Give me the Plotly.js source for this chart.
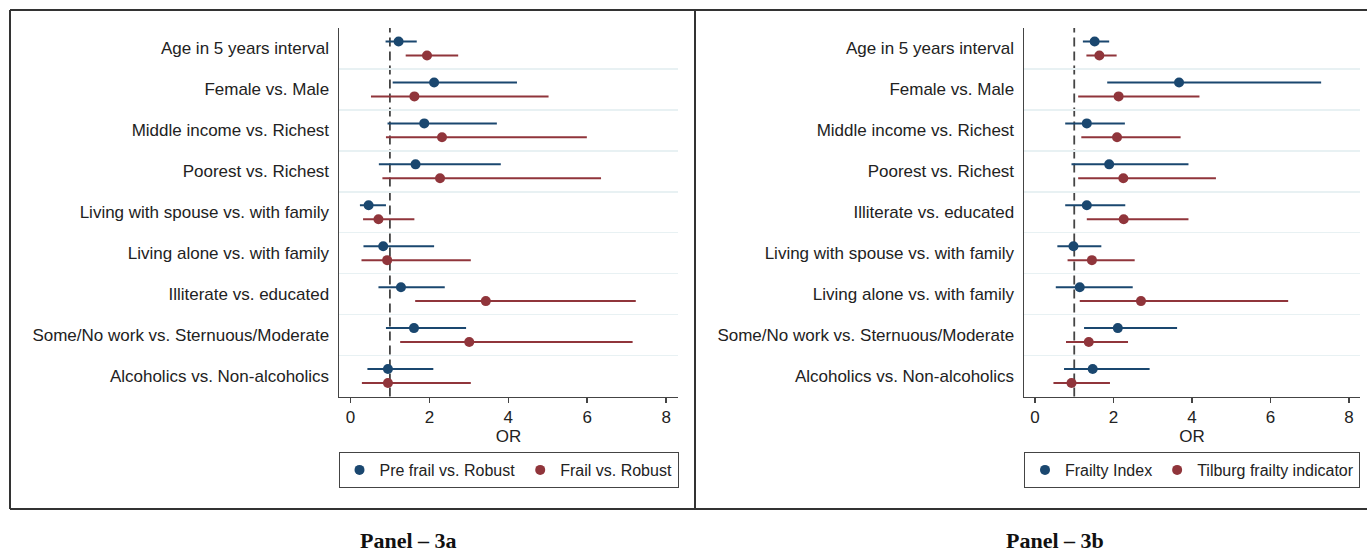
<!DOCTYPE html>
<html>
<head>
<meta charset="utf-8">
<script src="https://cdn.plot.ly/plotly-3.0.1.min.js"></script>
<style>html,body{margin:0;padding:0;background:#fff;}#chart{width:1367px;height:553px;}</style>
</head>
<body>
<div id="chart"></div>
<script>
// Panel 3a
const categoriesA = ["Age in 5 years interval","Female vs. Male","Middle income vs. Richest","Poorest vs. Richest","Living with spouse vs. with family","Living alone vs. with family","Illiterate vs. educated","Some/No work vs. Sternuous/Moderate","Alcoholics vs. Non-alcoholics"];
const orA_pre   = [1.22, 2.12, 1.87, 1.65, 0.46, 0.83, 1.28, 1.61, 0.95];
const loA_pre   = [0.89, 1.07, 0.94, 0.72, 0.24, 0.33, 0.71, 0.90, 0.43];
const hiA_pre   = [1.68, 4.22, 3.71, 3.81, 0.90, 2.12, 2.39, 2.93, 2.10];
const orA_frail = [1.94, 1.62, 2.32, 2.27, 0.71, 0.93, 3.43, 3.01, 0.95];
const loA_frail = [1.40, 0.52, 0.90, 0.81, 0.32, 0.28, 1.64, 1.26, 0.29];
const hiA_frail = [2.73, 5.02, 5.99, 6.35, 1.62, 3.05, 7.23, 7.15, 3.05];
const seriesA = ["Pre frail vs. Robust", "Frail vs. Robust"];

// Panel 3b
const categoriesB = ["Age in 5 years interval","Female vs. Male","Middle income vs. Richest","Poorest vs. Richest","Illiterate vs. educated","Living with spouse vs. with family","Living alone vs. with family","Some/No work vs. Sternuous/Moderate","Alcoholics vs. Non-alcoholics"];
const orB_fi  = [1.52, 3.67, 1.32, 1.89, 1.32, 0.98, 1.14, 2.11, 1.47];
const loB_fi  = [1.22, 1.84, 0.77, 0.93, 0.77, 0.57, 0.53, 1.25, 0.74];
const hiB_fi  = [1.89, 7.29, 2.29, 3.91, 2.30, 1.69, 2.49, 3.62, 2.92];
const orB_tfi = [1.64, 2.13, 2.09, 2.25, 2.26, 1.45, 2.70, 1.37, 0.93];
const loB_tfi = [1.31, 1.10, 1.18, 1.10, 1.32, 0.83, 1.14, 0.79, 0.47];
const hiB_tfi = [2.08, 4.19, 3.71, 4.61, 3.91, 2.54, 6.45, 2.37, 1.91];
const seriesB = ["Frailty Index", "Tilburg frailty indicator"];

const xTicks = [0, 2, 4, 6, 8];
const panelLabels = ["Panel – 3a", "Panel – 3b"];

const BLUE = "#1a476f", RED = "#90353b";
const FONT = "Liberation Sans, Arial, Helvetica, sans-serif";
const W = 1367, H = 553;
const px = v => v / W, py = v => 1 - v / H;

function trace(cats, or, lo, hi, name, color, shift, xa, ya, leg) {
  return {
    type: "scatter", mode: "markers", name: name,
    x: or, y: cats.map((c, i) => i + shift),
    xaxis: xa, yaxis: ya, legend: leg,
    marker: {color: color, size: 10},
    error_x: {type: "data", symmetric: false,
      array: hi.map((h, i) => h - or[i]),
      arrayminus: lo.map((l, i) => or[i] - l),
      color: color, thickness: 2, width: 0},
    hoverinfo: "x+name"
  };
}
const OFF = 0.17;
const data = [
  trace(categoriesA, orA_pre, loA_pre, hiA_pre, seriesA[0], BLUE, -OFF, "x", "y", "legend"),
  trace(categoriesA, orA_frail, loA_frail, hiA_frail, seriesA[1], RED, OFF, "x", "y", "legend"),
  trace(categoriesB, orB_fi, loB_fi, hiB_fi, seriesB[0], BLUE, -OFF, "x2", "y2", "legend2"),
  trace(categoriesB, orB_tfi, loB_tfi, hiB_tfi, seriesB[1], RED, OFF, "x2", "y2", "legend2")
];

function yaxis(cats, anchor) {
  const halves = cats.slice(1).map((c, i) => i + 0.5);
  return {
    anchor: anchor, domain: [(H - 396.5) / H, (H - 28) / H],
    range: [cats.length - 0.5, -0.5], autorange: false,
    tickmode: "array", tickvals: cats.map((c, i) => i), ticktext: cats,
    ticks: "", showgrid: false, zeroline: false,
    showline: true, linecolor: "#444", linewidth: 1.5,
    ticklabelstandoff: 5,
    tickfont: {family: FONT, size: 17, color: "#222"},
    minor: {tickmode: "array", tickvals: halves, showgrid: true, gridcolor: "#e8f1f3", gridwidth: 1.5, ticks: ""},
    fixedrange: true
  };
}
function xaxis(domain, range, anchor) {
  return {
    anchor: anchor, domain: domain, range: range, autorange: false,
    tickmode: "array", tickvals: xTicks, ticks: "outside", ticklen: 5, tickwidth: 1.5, tickcolor: "#444",
    showgrid: false, zeroline: false, showline: true, linecolor: "#444", linewidth: 1.5,
    tickfont: {family: FONT, size: 17, color: "#222"},
    title: {text: "OR", font: {family: FONT, size: 17, color: "#222"}, standoff: 0},
    fixedrange: true
  };
}

function dashed(xref, yref) {
  return {type: "line", xref: xref, yref: yref + " domain", x0: 1, x1: 1, y0: 0, y1: 1,
    line: {color: "#444", width: 1.8, dash: "9px,5px"}, layer: "below"};
}
function border(x0, y0, x1, y1) {
  return {type: "line", xref: "paper", yref: "paper", x0: px(x0), x1: px(x1), y0: py(y0), y1: py(y1),
    line: {color: "#333", width: 2}};
}

const legendBase = {
  orientation: "h", yanchor: "top", y: py(452), xanchor: "center",
  bordercolor: "#444", borderwidth: 1, bgcolor: "#fff",
  font: {family: FONT, size: 16, color: "#222"}, itemwidth: 30, tracegroupgap: 0
};

const panelFont = {family: "Liberation Serif, Times New Roman, serif", size: 22, color: "#111"};
const layout = {
  width: W, height: H, margin: {l: 0, r: 0, t: 0, b: 0},
  paper_bgcolor: "#fff", plot_bgcolor: "#fff",
  showlegend: true,
  xaxis: xaxis([px(339), px(678)], [-0.29, 8.3], "y"),
  yaxis: yaxis(categoriesA, "x"),
  xaxis2: xaxis([px(1024), px(1360)], [-0.28, 8.28], "y2"),
  yaxis2: yaxis(categoriesB, "x2"),
  legend: Object.assign({}, legendBase, {x: px(508.5)}),
  legend2: Object.assign({}, legendBase, {x: px(1192)}),
  shapes: [
    dashed("x", "y"), dashed("x2", "y2"),
    border(10, 10, W, 10), border(10, 509, W, 509),
    border(10, 10, 10, 509), border(695, 10, 695, 509)
  ],
  annotations: [
    {text: "<b>" + panelLabels[0] + "</b>", xref: "paper", yref: "paper", x: px(408), y: py(540),
     xanchor: "center", yanchor: "middle", borderpad: 0, showarrow: false, font: panelFont},
    {text: "<b>" + panelLabels[1] + "</b>", xref: "paper", yref: "paper", x: px(1055), y: py(540),
     xanchor: "center", yanchor: "middle", borderpad: 0, showarrow: false, font: panelFont}
  ]
};

Plotly.newPlot("chart", data, layout, {displayModeBar: false, staticPlot: true});
</script>
</body>
</html>
